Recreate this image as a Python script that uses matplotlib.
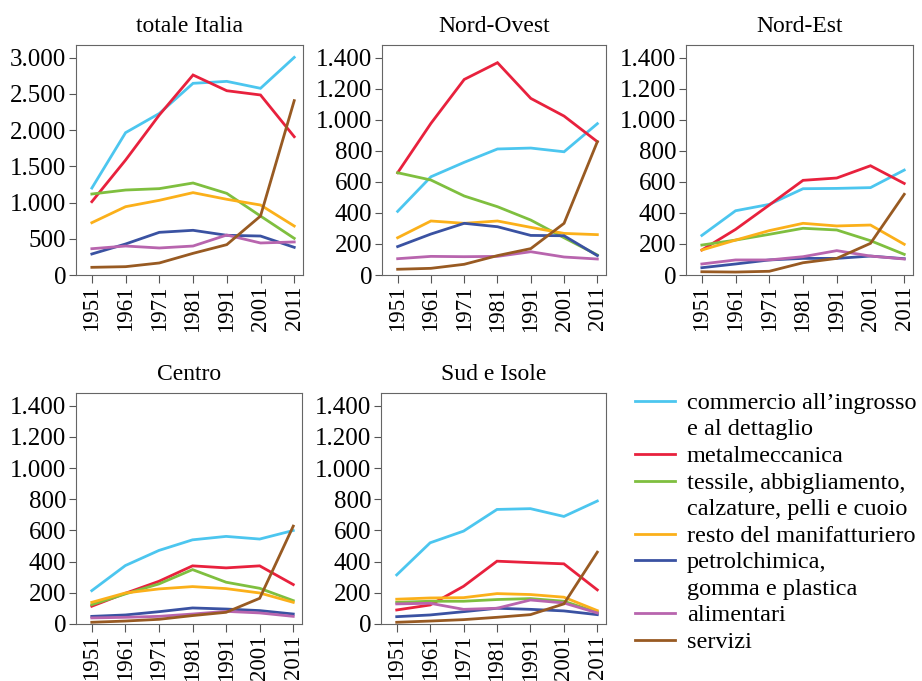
import matplotlib
matplotlib.use("Agg")
import matplotlib.pyplot as plt
from matplotlib.lines import Line2D
from matplotlib.ticker import FuncFormatter

plt.rcParams['font.family'] = ['Liberation Serif', 'DejaVu Serif']

years = [1951, 1961, 1971, 1981, 1991, 2001, 2011]

sectors = ["commercio all\u2019ingrosso\ne al dettaglio",
           "metalmeccanica",
           "tessile, abbigliamento,\ncalzature, pelli e cuoio",
           "resto del manifatturiero",
           "petrolchimica,\ngomma e plastica",
           "alimentari",
           "servizi"]
colors = ["#4cc6ef", "#e8213d", "#7fbf3f", "#fbb01a",
          "#3a52a2", "#b865ae", "#985a22"]

# one row per sector, same order as above
italia = [[1200, 1965, 2230, 2646, 2673, 2577, 3004],
          [1012, 1587, 2209, 2761, 2544, 2485, 1909],
          [1118, 1173, 1192, 1270, 1127, 814, 506],
          [722, 943, 1031, 1137, 1045, 966, 676],
          [290, 428, 589, 617, 548, 538, 382],
          [363, 400, 373, 400, 552, 442, 456],
          [106, 115, 166, 299, 419, 814, 2407]]

nord_ovest = [[410, 633, 726, 812, 818, 794, 975],
              [659, 977, 1260, 1368, 1138, 1024, 859],
              [659, 612, 509, 440, 354, 240, 129],
              [240, 348, 333, 348, 307, 268, 260],
              [183, 264, 333, 311, 255, 253, 125],
              [105, 120, 118, 120, 150, 116, 103],
              [37, 43, 69, 125, 170, 333, 859]]

nord_est = [[255, 414, 455, 556, 558, 563, 676],
            [161, 294, 451, 610, 625, 704, 590],
            [193, 225, 262, 301, 290, 221, 133],
            [161, 225, 286, 333, 316, 322, 198],
            [47, 71, 97, 107, 107, 122, 105],
            [71, 97, 97, 118, 157, 122, 103],
            [21, 19, 24, 79, 107, 204, 520]]

centro = [[214, 375, 472, 540, 562, 545, 600],
          [114, 197, 274, 373, 360, 373, 253],
          [124, 193, 257, 349, 268, 229, 150],
          [139, 199, 225, 240, 227, 199, 139],
          [49, 58, 79, 103, 96, 86, 64],
          [39, 43, 49, 64, 81, 71, 49],
          [11, 19, 30, 54, 75, 165, 628]]

sud = [[315, 521, 596, 735, 740, 690, 789],
       [90, 122, 242, 403, 394, 386, 219],
       [139, 146, 146, 157, 163, 146, 75],
       [159, 167, 169, 195, 189, 172, 86],
       [47, 58, 79, 101, 94, 84, 60],
       [129, 133, 94, 101, 154, 135, 71],
       [11, 19, 28, 43, 60, 129, 461]]

W, H = 922, 681
fig = plt.figure(figsize=(W / 100, H / 100), dpi=100)


def rect(l, t, r, b):
    return [l / W, 1 - b / H, (r - l) / W, (b - t) / H]


def panel(box, title, data, ymax, ticks):
    ax = fig.add_axes(rect(*box))
    for vals, c in zip(data, colors):
        ax.plot(years, vals, color=c, lw=2.0, solid_joinstyle="miter")
    ax.set_xlim(1946.3, 2013.6)
    ax.set_ylim(0, ymax)
    ax.set_xticks(years)
    ax.set_xticklabels([str(y) for y in years], rotation=90)
    ax.set_yticks(ticks)
    ax.yaxis.set_major_formatter(
        FuncFormatter(lambda v, p: f"{int(v):,}".replace(",", ".")))
    ax.tick_params(axis="y", labelsize=18, length=5, width=0.8,
                   color="#555555", pad=2)
    ax.tick_params(axis="x", labelsize=16.5, length=6, width=0.8,
                   color="#555555", pad=2)
    for sp in ax.spines.values():
        sp.set_color("#666666")
        sp.set_linewidth(0.8)
    ax.set_title(title, fontsize=17, pad=9)
    return ax


small = [0, 200, 400, 600, 800, 1000, 1200, 1400]
panel((76, 45, 303, 275), "totale Italia", italia, 3175,
      [0, 500, 1000, 1500, 2000, 2500, 3000])
panel((382, 45, 606, 275), "Nord-Ovest", nord_ovest, 1482, small)
panel((686, 45, 913, 275), "Nord-Est", nord_est, 1482, small)
panel((76, 393, 302, 624), "Centro", centro, 1482, small)
panel((381, 393, 606, 624), "Sud e Isole", sud, 1482, small)

# legend, handle next to the first line of each label
step = 26.5
y = 401
for lab, c in zip(sectors, colors):
    fig.add_artist(Line2D([635 / W, 675 / W], [1 - y / H, 1 - y / H],
                          color=c, lw=2.0, transform=fig.transFigure))
    for i, line in enumerate(lab.split("\n")):
        fig.text(687 / W, 1 - (y + i * step) / H, line, fontsize=17.5,
                 va="center_baseline", ha="left")
    y += step * len(lab.split("\n"))

fig.savefig("out.png", dpi=100)
